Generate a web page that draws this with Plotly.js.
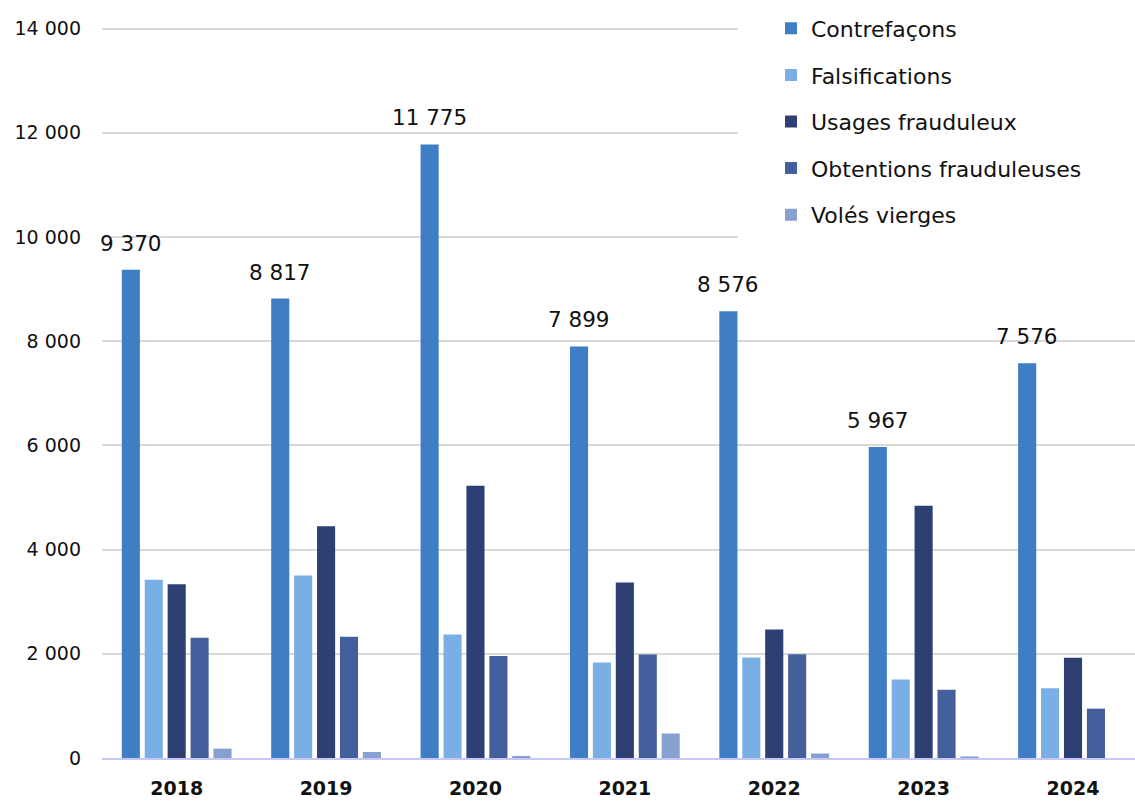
<!DOCTYPE html>
<html>
<head>
<meta charset="utf-8">
<script src="https://cdn.plot.ly/plotly-3.0.1.min.js"></script>
<style>
  html, body { margin: 0; padding: 0; background: #ffffff; }
  #chart { width: 1135px; height: 801px; }
</style>
</head>
<body>
<div id="chart"></div>
<script>
// Years on the horizontal axis
const years = ['2018', '2019', '2020', '2021', '2022', '2023', '2024'];

// Counts per category of document fraud
const contrefacons = [9370, 8817, 11775, 7899, 8576, 5967, 7576];
const falsifications = [3421, 3504, 2369, 1832, 1928, 1506, 1337];
const usagesFrauduleux = [3337, 4447, 5226, 3366, 2465, 4843, 1926];
const obtentionsFrauduleuses = [2309, 2328, 1960, 1985, 1991, 1308, 947];
const volesVierges = [180, 115, 40, 470, 86, 30, null];

// Y axis ticks
const yTicks = [0, 2000, 4000, 6000, 8000, 10000, 12000, 14000];

const seriesNames = ['Contrefaçons', 'Falsifications', 'Usages frauduleux', 'Obtentions frauduleuses', 'Volés vierges'];
const seriesValues = [contrefacons, falsifications, usagesFrauduleux, obtentionsFrauduleuses, volesVierges];
const seriesColors = ['#3F7DC5', '#7AAFE6', '#2E3F74', '#44609C', '#86A0CF'];

const FONT = 'DejaVu Sans, sans-serif';
const W = 1135, H = 801;
const margin = {l: 102, r: 0, t: 26.5, b: 43};
const xRange = [-0.5, 6.415];
// a hair of headroom so the top grid line is not dropped at the plot edge
const yRange = [0, 14030];
const bargap = 0.233;
const bargroupgap = 0.21;

// French-style thousands grouping: "11 775"
function frNumber(v) {
  return String(v).replace(/\B(?=(\d{3})+(?!\d))/g, '\u00a0');
}

const traces = seriesNames.map((name, i) => ({
  type: 'bar',
  name: name,
  x: years,
  y: seriesValues[i],
  legendgroup: 'g' + i,
  marker: {color: seriesColors[i], line: {width: 0}},
  hoverinfo: 'skip'
}));

// Value labels above the first series: shift each label onto its bar within the group
const plotW = W - margin.l - margin.r;
const catWidth = plotW / (xRange[1] - xRange[0]);
const slot = catWidth * (1 - bargap) / seriesNames.length;
const firstBarShift = -((seriesNames.length - 1) / 2) * slot;

const annotations = years.map((yr, i) => ({
  x: i,
  y: contrefacons[i],
  xref: 'x',
  yref: 'y',
  text: frNumber(contrefacons[i]),
  showarrow: false,
  xanchor: 'center',
  yanchor: 'bottom',
  xshift: firstBarShift,
  yshift: 12,
  font: {family: FONT, size: 21.5, color: '#111111'}
}));

// White panel behind the legend (hides the grid lines there)
const plotH = H - margin.t - margin.b;
const legendPanel = {
  type: 'rect',
  xref: 'paper',
  yref: 'paper',
  x0: (738 - margin.l) / plotW,
  x1: 1,
  y0: (H - margin.b - 245) / plotH,
  y1: (H - margin.b - 6) / plotH,
  fillcolor: '#ffffff',
  line: {width: 0},
  layer: 'above'
};

const layout = {
  width: W,
  height: H,
  margin: margin,
  paper_bgcolor: '#ffffff',
  plot_bgcolor: '#ffffff',
  barmode: 'group',
  bargap: bargap,
  bargroupgap: bargroupgap,
  separators: ', ',
  font: {family: FONT, color: '#111111'},
  showlegend: true,
  legend: {
    x: (771 - margin.l) / plotW,
    xanchor: 'left',
    y: (H - margin.b - 7) / plotH,
    yanchor: 'top',
    bgcolor: 'rgba(255,255,255,0)',
    font: {family: FONT, size: 22, color: '#111111'},
    tracegroupgap: 15,
    itemclick: false
  },
  xaxis: {
    type: 'category',
    range: xRange,
    showgrid: false,
    zeroline: false,
    showline: true,
    linecolor: '#C8C6F6',
    linewidth: 2,
    ticks: '',
    ticklabelstandoff: 12,
    tickfont: {family: FONT, size: 19, color: '#111111', weight: 'bold'},
    fixedrange: true
  },
  yaxis: {
    range: yRange,
    tickvals: yTicks,
    tickformat: ',d',
    showgrid: true,
    gridcolor: '#D9D9D9',
    gridwidth: 2,
    zeroline: false,
    showline: false,
    ticks: '',
    ticklabelstandoff: 20,
    tickfont: {family: FONT, size: 19, color: '#111111'},
    fixedrange: true
  },
  shapes: [legendPanel],
  annotations: annotations
};

Plotly.newPlot('chart', traces, layout, {displayModeBar: false, staticPlot: true});
</script>
</body>
</html>
